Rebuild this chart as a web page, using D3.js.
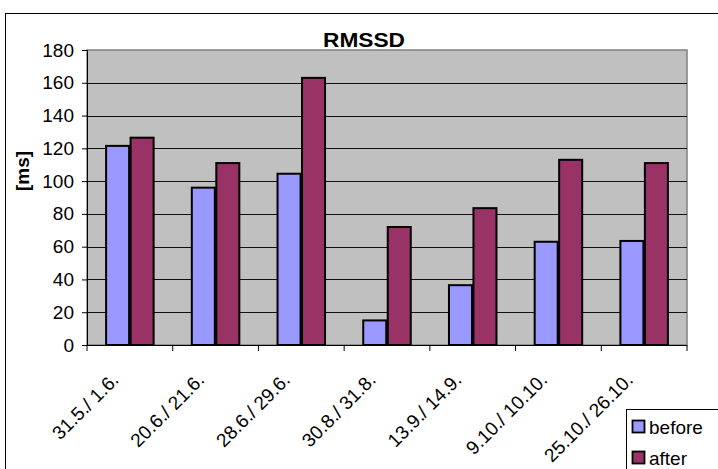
<!DOCTYPE html>
<html>
<head>
<meta charset="utf-8">
<script src="https://cdn.jsdelivr.net/npm/d3@7/dist/d3.min.js"></script>
<style>
  html, body { margin: 0; padding: 0; background: #fff; }
  svg { display: block; font-family: Arial, "Liberation Sans", sans-serif; }
</style>
</head>
<body>
<svg id="chart" width="718" height="469"></svg>
<script>
// RMSSD before and after, per measurement date pair
const categories = ["31.5./ 1.6.", "20.6./ 21.6.", "28.6./ 29.6.", "30.8./ 31.8.", "13.9./ 14.9.", "9.10./ 10.10.", "25.10./ 26.10."];
const before = [121.5, 96, 104.5, 15, 36.5, 63, 63.5];
const after = [126.5, 111, 163, 72, 83.5, 113, 111];
const seriesNames = ["before", "after"];
const seriesColors = ["#9999FF", "#993366"];
const yTicks = [0, 20, 40, 60, 80, 100, 120, 140, 160, 180];

const svg = d3.select("#chart");
const plot = { left: 87, top: 50, right: 687, bottom: 345 };
const FS = 19;

// outer chart frame
svg.append("rect")
  .attr("x", 5.5).attr("y", 13.5)
  .attr("width", 730).attr("height", 470)
  .attr("fill", "#fff").attr("stroke", "#000").attr("stroke-width", 1);

const x = d3.scaleBand().domain(categories).range([plot.left, plot.right]).paddingInner(0).paddingOuter(0);
const y = d3.scaleLinear().domain([0, 180]).range([plot.bottom, plot.top]);
const inner = d3.scaleBand().domain(seriesNames).range([0, x.bandwidth()]).paddingInner(0.06).paddingOuter(0.78);

// plot area background
svg.append("rect")
  .attr("x", plot.left).attr("y", plot.top)
  .attr("width", plot.right - plot.left).attr("height", plot.bottom - plot.top)
  .attr("fill", "#C0C0C0").attr("stroke", "#808080").attr("stroke-width", 1.5);

// horizontal gridlines
svg.append("g").selectAll("line")
  .data(yTicks.filter(d => d > 0 && d < 180))
  .join("line")
  .attr("x1", plot.left).attr("x2", plot.right)
  .attr("y1", d => Math.round(y(d)) + 0.5).attr("y2", d => Math.round(y(d)) + 0.5)
  .attr("stroke", "#111").attr("stroke-width", 1);

// title (sits just on top of the plot area)
svg.append("text")
  .attr("x", 364).attr("y", 47)
  .attr("text-anchor", "middle")
  .attr("font-size", 20).attr("font-weight", "bold")
  .attr("textLength", 82).attr("lengthAdjust", "spacingAndGlyphs")
  .text("RMSSD");

// bars
const groups = svg.append("g").selectAll("g")
  .data(categories.map((c, i) => ({ c, vals: [before[i], after[i]] })))
  .join("g")
  .attr("transform", d => `translate(${x(d.c)},0)`);

groups.selectAll("rect")
  .data(d => d.vals.map((v, j) => ({ v, s: seriesNames[j], color: seriesColors[j] })))
  .join("rect")
  .attr("x", d => inner(d.s))
  .attr("y", d => y(d.v))
  .attr("width", inner.bandwidth())
  .attr("height", d => y(0) - y(d.v))
  .attr("fill", d => d.color)
  .attr("stroke", "#000").attr("stroke-width", 2);

// y axis
const yAxis = svg.append("g")
  .attr("transform", `translate(${plot.left},0)`)
  .call(d3.axisLeft(y).tickValues(yTicks).tickSize(5).tickPadding(8));
yAxis.select(".domain").attr("stroke", "#000");
yAxis.selectAll(".tick line").attr("stroke", "#000");
yAxis.selectAll("text").attr("font-size", FS).attr("fill", "#000")
  .attr("font-family", "Arial, 'Liberation Sans', sans-serif");

// x axis with ticks between categories
const xAxis = svg.append("g").attr("transform", `translate(0,${plot.bottom})`);
xAxis.append("line")
  .attr("x1", plot.left).attr("x2", plot.right)
  .attr("y1", 0.5).attr("y2", 0.5)
  .attr("stroke", "#000");
xAxis.selectAll("line.tk")
  .data(d3.range(categories.length + 1))
  .join("line").attr("class", "tk")
  .attr("x1", i => plot.left + i * x.step()).attr("x2", i => plot.left + i * x.step())
  .attr("y1", 0).attr("y2", 6)
  .attr("stroke", "#000");
xAxis.selectAll("text")
  .data(categories)
  .join("text")
  .attr("transform", d => `translate(${x(d) + x.bandwidth() / 2 - 10},${36}) rotate(-45)`)
  .attr("text-anchor", "end")
  .attr("font-size", FS)
  .text(d => d);

// y axis title
svg.append("text")
  .attr("transform", "translate(29,171) rotate(-90)")
  .attr("text-anchor", "middle")
  .attr("font-size", FS).attr("font-weight", "bold")
  .text("[ms]");

// legend
const legend = svg.append("g").attr("transform", "translate(626,409)");
legend.append("rect")
  .attr("x", 0.5).attr("y", 0.5).attr("width", 120).attr("height", 80)
  .attr("fill", "#fff").attr("stroke", "#000");
seriesNames.forEach((s, i) => {
  const gy = 18 + i * 31;
  legend.append("rect")
    .attr("x", 6.5).attr("y", gy - 6.5).attr("width", 12).attr("height", 12)
    .attr("fill", seriesColors[i]).attr("stroke", "#000").attr("stroke-width", 1.8);
  legend.append("text")
    .attr("x", 23).attr("y", gy).attr("dy", "0.36em")
    .attr("font-size", FS)
    .text(s);
});
</script>
</body>
</html>
